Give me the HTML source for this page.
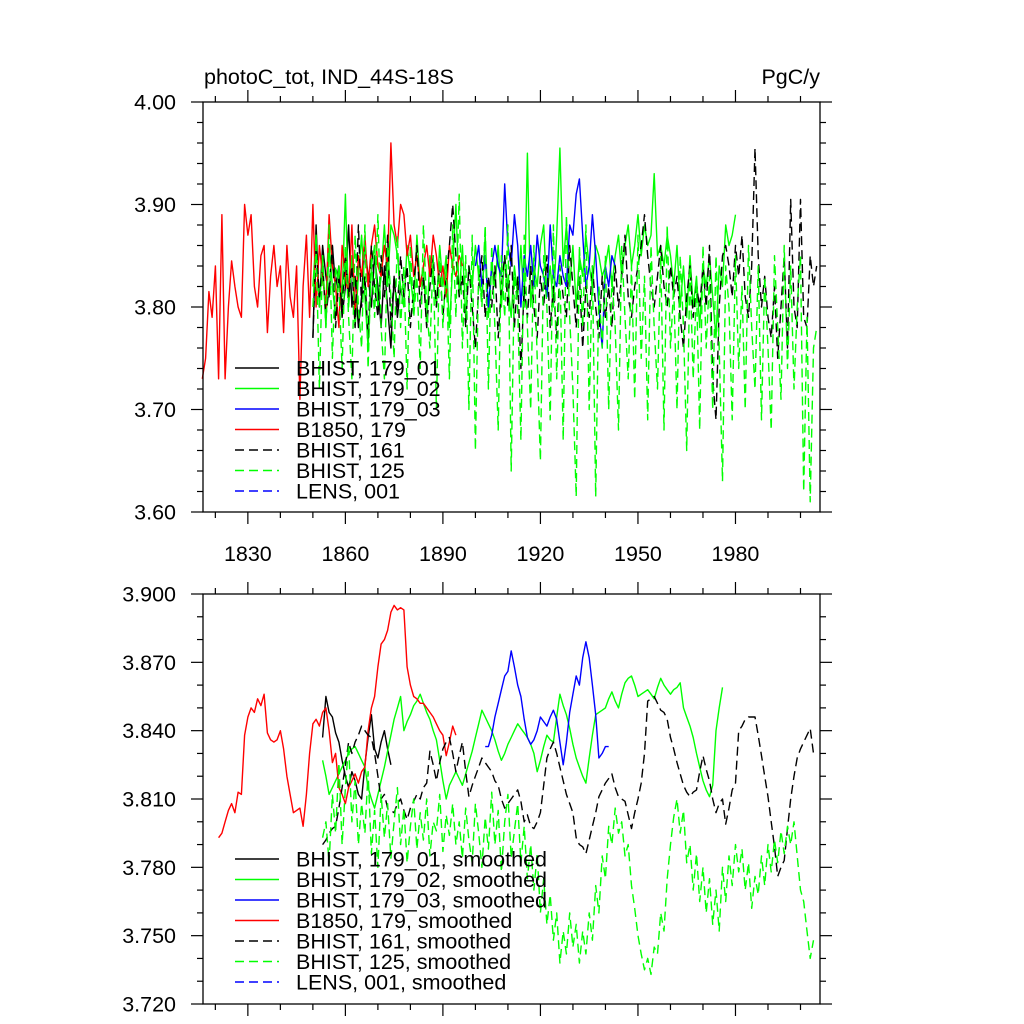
<!DOCTYPE html>
<html><head><meta charset="utf-8"><title>photoC_tot chart</title>
<style>
html,body{margin:0;padding:0;background:#fff;}
svg{display:block;font-family:"Liberation Sans",Arial,sans-serif;}
</style></head>
<body>
<svg id="chart" width="1024" height="1024" viewBox="0 0 1024 1024" xmlns="http://www.w3.org/2000/svg">
<rect x="0" y="0" width="1024" height="1024" fill="#fff"/>
<text x="204" y="84" font-size="21.5">photoC_tot, IND_44S-18S</text>
<text x="820" y="84" font-size="21.5" text-anchor="end">PgC/y</text>
<g id="top"></g>
<g id="bot"></g>
</svg>
<script>
// ---- x axis ----
const xTickYears = [1830,1860,1890,1920,1950,1980];
const xTickLabels = ["1830","1860","1890","1920","1950","1980"];
// ---- top panel (raw) ----
const topYTicks = [3.60,3.70,3.80,3.90,4.00];
const topYTickLabels = ["3.60","3.70","3.80","3.90","4.00"];
const b179_01Start = 1850;
const b179_01 = [3.77,3.88,3.80,3.86,3.83,3.81,3.86,3.82,3.84,3.79,3.82,3.88,3.80,3.83,3.78,3.81,3.86,3.83,3.80,3.85,3.82,3.78,3.84,3.80,3.76,3.83,3.79,3.82,3.80];
const b179_02Start = 1850;
const b179_02 = [3.82,3.87,3.80,3.85,3.78,3.86,3.82,3.79,3.84,3.81,
3.91,3.80,3.85,3.78,3.83,3.87,3.81,3.76,3.84,3.86,
3.80,3.83,3.88,3.82,3.88,3.87,3.85,3.82,3.80,3.86,
3.83,3.80,3.87,3.82,3.84,3.78,3.85,3.83,3.80,3.86,
3.82,3.85,3.78,3.84,3.90,3.81,3.86,3.79,3.84,3.82,
3.86,3.83,3.81,3.87,3.79,3.84,3.82,3.86,3.80,3.85,
3.82,3.79,3.84,3.81,3.86,3.80,3.95,3.80,3.84,3.82,
3.86,3.88,3.81,3.84,3.80,3.87,3.955,3.84,3.88,3.82,
3.86,3.80,3.85,3.83,3.87,3.84,3.82,3.86,3.85,3.83,
3.84,3.86,3.82,3.85,3.87,3.83,3.86,3.88,3.84,3.86,
3.89,3.85,3.88,3.86,3.87,3.93,3.85,3.86,3.84,3.87,
3.85,3.82,3.86,3.80,3.84,3.79,3.85,3.80,3.83,3.78,
3.84,3.82,3.85,3.81,3.77,3.84,3.82,3.88,3.86,3.87,3.89];
const b179_03Start = 1900;
const b179_03 = [3.84,3.86,3.82,3.85,3.80,3.84,3.86,3.84,3.83,3.92,3.86,3.84,3.89,3.86,3.80,3.85,3.83,3.86,3.82,3.87,3.84,3.83,3.81,3.88,3.83,3.82,3.85,3.83,3.82,3.88,3.87,3.91,3.925,3.87,3.82,3.84,3.89,3.85,3.80,3.76,3.84,3.82,3.85,3.84];
const b1850Start = 1816;
const b1850 = [3.73,3.75,3.815,3.79,3.84,3.73,3.89,3.73,3.80,3.845,
3.82,3.80,3.79,3.90,3.87,3.89,3.82,3.80,3.85,3.86,
3.775,3.83,3.86,3.82,3.84,3.775,3.86,3.81,3.79,3.84,
3.71,3.82,3.87,3.79,3.90,3.80,3.86,3.83,3.80,3.89,
3.84,3.82,3.78,3.86,3.83,3.81,3.88,3.79,3.85,3.83,
3.87,3.82,3.86,3.88,3.84,3.83,3.86,3.84,3.96,
3.88,3.86,3.90,3.89,3.85,3.87,3.83,3.85,3.82,3.84,
3.86,3.83,3.87,3.85,3.82,3.84,3.81,3.86,3.84,3.83,3.85,3.84];
const b161Start = 1850;
const b161 = [3.77,3.86,3.81,3.84,3.79,3.82,3.86,3.78,3.83,3.80,
3.85,3.81,3.84,3.78,3.88,3.80,3.83,3.77,3.86,3.82,
3.79,3.85,3.81,3.87,3.78,3.83,3.80,3.85,3.81,3.84,
3.78,3.82,3.86,3.80,3.83,3.78,3.82,3.85,3.80,3.84,
3.79,3.83,3.86,3.90,3.85,3.81,3.83,3.78,3.84,3.80,
3.76,3.82,3.85,3.79,3.83,3.80,3.84,3.77,3.82,3.85,
3.80,3.86,3.78,3.83,3.74,3.82,3.79,3.84,3.80,3.77,
3.83,3.80,3.85,3.78,3.82,3.77,3.84,3.81,3.79,3.86,
3.82,3.78,3.83,3.76,3.82,3.79,3.84,3.80,3.77,3.83,
3.79,3.82,3.78,3.84,3.80,3.83,3.87,3.81,3.79,3.82,
3.84,3.86,3.89,3.85,3.82,3.80,3.83,3.86,3.82,3.80,
3.84,3.81,3.83,3.79,3.76,3.81,3.84,3.79,3.82,3.80,
3.84,3.80,3.86,3.73,3.69,3.80,3.85,3.86,3.84,3.81,
3.86,3.83,3.87,3.81,3.79,3.84,3.955,3.85,3.80,3.83,
3.79,3.77,3.82,3.75,3.80,3.85,3.76,3.905,3.80,3.78,
3.905,3.79,3.78,3.85,3.82,3.84];
const b125Start = 1850;
const b125 = [3.80,3.86,3.72,3.85,3.78,3.88,3.75,3.84,3.82,3.74,
3.86,3.79,3.73,3.87,3.80,3.76,3.88,3.74,3.85,3.79,
3.89,3.78,3.73,3.86,3.81,3.75,3.87,3.78,3.84,3.72,
3.86,3.79,3.83,3.74,3.88,3.80,3.76,3.85,3.70,3.86,
3.78,3.84,3.73,3.88,3.79,3.91,3.76,3.85,3.70,3.87,
3.66,3.84,3.80,3.88,3.72,3.86,3.78,3.68,3.85,3.79,
3.88,3.64,3.83,3.80,3.67,3.87,3.78,3.70,3.86,3.75,
3.65,3.85,3.80,3.69,3.88,3.73,3.84,3.67,3.89,3.79,
3.72,3.615,3.86,3.78,3.88,3.70,3.84,3.615,3.82,3.76,
3.85,3.70,3.83,3.78,3.68,3.86,3.79,3.73,3.84,3.71,
3.87,3.75,3.83,3.69,3.86,3.78,3.72,3.85,3.68,3.88,
3.76,3.82,3.70,3.85,3.78,3.66,3.84,3.73,3.82,3.68,
3.86,3.76,3.83,3.70,3.85,3.76,3.63,3.84,3.80,3.69,
3.85,3.74,3.82,3.70,3.86,3.78,3.72,3.84,3.69,3.83,
3.76,3.68,3.85,3.78,3.71,3.86,3.74,3.84,3.72,3.80,
3.85,3.62,3.79,3.61,3.76,3.78];
// ---- bottom panel (smoothed) ----
const botYTicks = [3.720,3.750,3.780,3.810,3.840,3.870,3.900];
const botYTickLabels = ["3.720","3.750","3.780","3.810","3.840","3.870","3.900"];
const s179_01Start = 1853;
const s179_01 = [3.837,3.855,3.848,3.846,3.839,3.835,3.827,3.820,3.815,3.822,3.818,3.812,3.810,3.825,3.837,3.847,3.832,3.828,3.835,3.840,3.832,3.825];
const s179_02Start = 1853;
const s179_02 = [3.827,3.820,3.812,3.815,3.818,3.821,3.824,3.827,3.830,3.832,
3.833,3.830,3.827,3.824,3.815,3.810,3.806,3.812,3.818,3.824,
3.831,3.838,3.845,3.850,3.855,3.840,3.844,3.847,3.851,3.853,
3.856,3.852,3.848,3.845,3.840,3.836,3.827,3.818,3.810,3.816,
3.819,3.822,3.819,3.816,3.821,3.826,3.831,3.837,3.843,3.849,
3.846,3.843,3.840,3.836,3.831,3.827,3.830,3.834,3.837,3.840,
3.843,3.841,3.839,3.837,3.834,3.830,3.822,3.827,3.833,3.838,
3.836,3.835,3.846,3.856,3.851,3.847,3.841,3.834,3.828,3.824,
3.820,3.817,3.828,3.838,3.847,3.848,3.849,3.850,3.854,3.857,
3.853,3.850,3.856,3.861,3.863,3.864,3.860,3.855,3.856,3.857,
3.858,3.856,3.854,3.859,3.863,3.860,3.858,3.856,3.858,3.859,
3.861,3.850,3.846,3.842,3.837,3.830,3.824,3.818,3.814,3.811,
3.816,3.840,3.850,3.859];
const s179_03Start = 1903;
const s179_03 = [3.833,3.833,3.838,3.846,3.852,3.858,3.864,3.866,3.875,3.868,
3.860,3.855,3.845,3.837,3.834,3.836,3.840,3.846,3.844,3.842,
3.846,3.849,3.845,3.835,3.825,3.835,3.848,3.856,3.864,3.860,
3.872,3.879,3.872,3.860,3.847,3.828,3.830,3.833,3.833];
const s1850Start = 1821;
const s1850 = [3.793,3.795,3.800,3.805,3.808,3.804,3.813,3.812,3.838,
3.846,3.850,3.848,3.854,3.851,3.856,3.839,3.836,3.835,3.836,
3.840,3.832,3.820,3.812,3.804,3.805,3.806,3.798,3.812,3.830,
3.843,3.845,3.842,3.848,3.850,3.840,3.826,3.830,3.815,3.812,
3.808,3.815,3.818,3.821,3.817,3.822,3.824,3.840,3.850,3.855,
3.868,3.878,3.880,3.884,3.892,3.895,3.893,3.894,3.893,3.868,
3.860,3.855,3.854,3.852,3.852,3.850,3.848,3.846,3.843,3.840,
3.838,3.829,3.835,3.842,3.838];
const s161Start = 1853;
const s161 = [3.790,3.792,3.795,3.797,3.798,3.806,3.815,3.825,3.835,3.830,
3.835,3.838,3.842,3.840,3.838,3.837,3.830,3.820,3.810,3.812,
3.806,3.805,3.804,3.808,3.810,3.805,3.801,3.806,3.809,3.812,
3.810,3.815,3.817,3.831,3.825,3.818,3.826,3.832,3.835,3.837,
3.830,3.822,3.829,3.835,3.822,3.811,3.816,3.820,3.824,3.828,
3.826,3.824,3.822,3.818,3.816,3.810,3.806,3.808,3.810,3.812,
3.814,3.809,3.800,3.803,3.798,3.797,3.800,3.804,3.816,3.828,
3.832,3.835,3.830,3.824,3.818,3.812,3.808,3.804,3.793,3.790,
3.789,3.786,3.792,3.798,3.804,3.811,3.814,3.817,3.819,3.821,
3.815,3.811,3.810,3.809,3.803,3.797,3.804,3.810,3.817,3.830,
3.853,3.854,3.855,3.852,3.849,3.848,3.845,3.837,3.832,3.826,
3.821,3.816,3.813,3.811,3.813,3.814,3.822,3.829,3.823,3.818,
3.810,3.804,3.808,3.810,3.799,3.806,3.814,3.817,3.840,3.842,
3.845,3.846,3.846,3.846,3.838,3.829,3.820,3.811,3.800,3.789,
3.776,3.780,3.783,3.797,3.810,3.820,3.828,3.832,3.835,3.838,
3.841,3.830];
const s125Start = 1853;
const s125 = [3.793,3.800,3.782,3.812,3.795,3.826,3.790,3.815,3.834,3.800,
3.818,3.790,3.808,3.795,3.822,3.786,3.805,3.780,3.812,3.793,
3.808,3.784,3.800,3.815,3.790,3.806,3.782,3.798,3.810,3.788,
3.804,3.792,3.810,3.785,3.800,3.796,3.812,3.787,3.803,3.794,
3.808,3.790,3.800,3.784,3.806,3.792,3.782,3.808,3.795,3.780,
3.802,3.788,3.813,3.790,3.805,3.778,3.800,3.812,3.784,3.796,
3.808,3.782,3.798,3.775,3.790,3.770,3.786,3.760,3.775,3.755,
3.768,3.748,3.760,3.738,3.752,3.742,3.760,3.745,3.755,3.738,
3.752,3.742,3.760,3.748,3.772,3.760,3.785,3.775,3.798,3.790,
3.806,3.795,3.800,3.785,3.790,3.772,3.762,3.750,3.742,3.735,
3.740,3.733,3.745,3.742,3.760,3.752,3.775,3.790,3.802,3.810,
3.795,3.805,3.782,3.790,3.770,3.786,3.765,3.780,3.760,3.775,
3.755,3.770,3.752,3.780,3.765,3.785,3.772,3.790,3.778,3.788,
3.770,3.782,3.762,3.776,3.768,3.785,3.772,3.790,3.778,3.792,
3.782,3.796,3.786,3.798,3.790,3.800,3.785,3.770,3.765,3.752,
3.740,3.748];

const NS = "http://www.w3.org/2000/svg";
const L = 203, R = 820;
const X0 = 1816.2, X1 = 2006.0;
function xs(yr){ return L + (yr - X0) / (X1 - X0) * (R - L); }

function mk(tag, attrs, parent){
  const e = document.createElementNS(NS, tag);
  for (const k in attrs) e.setAttribute(k, attrs[k]);
  parent.appendChild(e);
  return e;
}

function panel(g, top, bottom, ymin, ymax, yTicks, yLabels, minorStep, series, legendNames, legendY0, showXLabels, name){
  const ys = v => bottom - (v - ymin) / (ymax - ymin) * (bottom - top);
  series.forEach(s => {
    const pts = s.vals.map((v, i) => xs(s.start + i).toFixed(1) + "," + ys(v).toFixed(1)).join(" ");
    const pl = mk("polyline", {points: pts, fill: "none", stroke: s.color, "stroke-width": 1.4, "stroke-linejoin": "round"}, g);
    if (s.dash) pl.setAttribute("stroke-dasharray", "9,5");
    
    
  });
  const fr = mk("rect", {x: L, y: top, width: R - L, height: bottom - top, fill: "none", stroke: "#000", "stroke-width": 1.3}, g);
  
  
  for (let yr = 1820; yr <= 2000; yr += 10) {
    const x = xs(yr);
    const len = (xTickYears.indexOf(yr) >= 0) ? 12 : 6;
    mk("line", {x1: x, x2: x, y1: top, y2: top - len, stroke: "#000", "stroke-width": 1.2}, g);
    mk("line", {x1: x, x2: x, y1: bottom, y2: bottom + len, stroke: "#000", "stroke-width": 1.2}, g);
  }
  const eps = 1e-6;
  for (let v = ymin; v <= ymax + eps; v += minorStep) {
    const y = ys(v);
    const major = yTicks.some(t => Math.abs(t - v) < minorStep / 3);
    const len = major ? 12 : 6;
    mk("line", {x1: L, x2: L - len, y1: y, y2: y, stroke: "#000", "stroke-width": 1.2}, g);
    mk("line", {x1: R, x2: R + len, y1: y, y2: y, stroke: "#000", "stroke-width": 1.2}, g);
  }
  yTicks.forEach((t, i) => {
    const tx = mk("text", {x: 176, y: ys(t) + 7.5, "font-size": 21.5, "text-anchor": "end"}, g);
    tx.textContent = yLabels[i];
    
    
  });
  if (showXLabels) {
    xTickYears.forEach((yr, i) => {
      const tx = mk("text", {x: xs(yr), y: bottom + 49, "font-size": 21.5, "text-anchor": "middle"}, g);
      tx.textContent = xTickLabels[i];
      
      
    });
  }
  legendNames.forEach((ln, i) => {
    const y = legendY0 + i * 20.5;
    const lg = mk("g", {}, g);
    
    
    const ll = mk("line", {x1: 235, x2: 279, y1: y, y2: y, stroke: ln.color, "stroke-width": 1.4}, lg);
    if (ln.dash) ll.setAttribute("stroke-dasharray", "9,5");
    const tx = mk("text", {x: 296, y: y + 7.5, "font-size": 21.5}, lg);
    tx.textContent = ln.label;
  });
}

const topSeries = [
  {id: "bhist-179-01", start: b179_01Start, vals: b179_01, color: "#000", dash: false},
  {id: "bhist-179-02", start: b179_02Start, vals: b179_02, color: "#00ff00", dash: false},
  {id: "bhist-179-03", start: b179_03Start, vals: b179_03, color: "#0000ff", dash: false},
  {id: "b1850-179", start: b1850Start, vals: b1850, color: "#ff0000", dash: false},
  {id: "bhist-161", start: b161Start, vals: b161, color: "#000", dash: true},
  {id: "bhist-125", start: b125Start, vals: b125, color: "#00ff00", dash: true}
];
const botSeries = [
  {id: "bhist-179-01-smoothed", start: s179_01Start, vals: s179_01, color: "#000", dash: false},
  {id: "bhist-179-02-smoothed", start: s179_02Start, vals: s179_02, color: "#00ff00", dash: false},
  {id: "bhist-179-03-smoothed", start: s179_03Start, vals: s179_03, color: "#0000ff", dash: false},
  {id: "b1850-179-smoothed", start: s1850Start, vals: s1850, color: "#ff0000", dash: false},
  {id: "bhist-161-smoothed", start: s161Start, vals: s161, color: "#000", dash: true},
  {id: "bhist-125-smoothed", start: s125Start, vals: s125, color: "#00ff00", dash: true}
];
const legendBase = [
  {label: "BHIST, 179_01", color: "#000", dash: false},
  {label: "BHIST, 179_02", color: "#00ff00", dash: false},
  {label: "BHIST, 179_03", color: "#0000ff", dash: false},
  {label: "B1850, 179", color: "#ff0000", dash: false},
  {label: "BHIST, 161", color: "#000", dash: true},
  {label: "BHIST, 125", color: "#00ff00", dash: true},
  {label: "LENS, 001", color: "#0000ff", dash: true}
];
const legendSmooth = legendBase.map(d => ({label: d.label + ", smoothed", color: d.color, dash: d.dash}));

panel(document.getElementById("top"), 102, 512, 3.60, 4.00, topYTicks, topYTickLabels, 0.02, topSeries, legendBase, 368, true, "top");
panel(document.getElementById("bot"), 594, 1004, 3.72, 3.90, botYTicks, botYTickLabels, 0.01, botSeries, legendSmooth, 859, false, "bottom");
</script>
</body></html>
